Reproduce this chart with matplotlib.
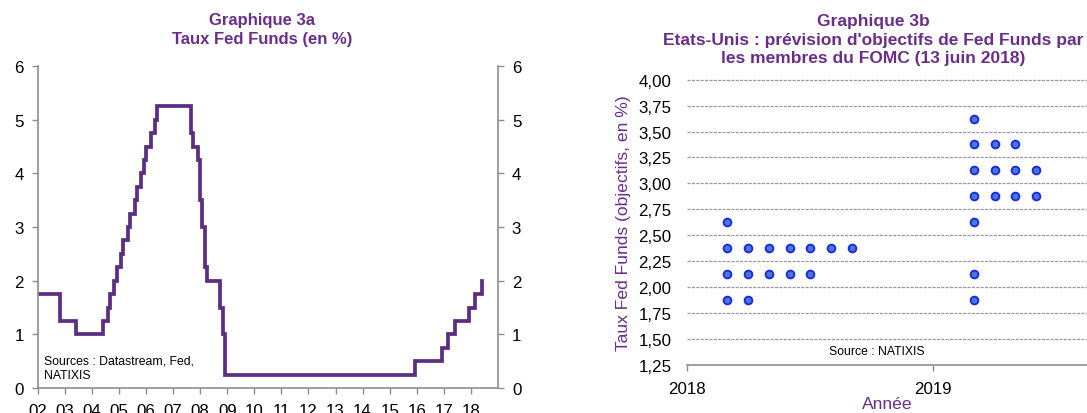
import numpy as np
import matplotlib
matplotlib.use("Agg")
import matplotlib.pyplot as plt

plt.rcParams['font.family'] = ['Liberation Sans', 'DejaVu Sans']

# Graphique 3a : Fed Funds target (upper bound), change dates and levels
change_dates = ["2002-01", "2002-11", "2003-06", "2004-06", "2004-08", "2004-09",
                "2004-11", "2004-12", "2005-02", "2005-03", "2005-05", "2005-06",
                "2005-08", "2005-09", "2005-11", "2005-12", "2006-01", "2006-03",
                "2006-05", "2006-06", "2007-09", "2007-10", "2007-12", "2008-01",
                "2008-02", "2008-03", "2008-04", "2008-10", "2008-11", "2008-12",
                "2015-12", "2016-12", "2017-03", "2017-06", "2017-12", "2018-03",
                "2018-06"]
fed_rates = [1.75, 1.25, 1.00, 1.25, 1.50, 1.75,
             2.00, 2.25, 2.50, 2.75, 3.00, 3.25,
             3.50, 3.75, 4.00, 4.25, 4.50, 4.75,
             5.00, 5.25, 4.75, 4.50, 4.25, 3.50,
             3.00, 2.25, 2.00, 1.50, 1.00, 0.25,
             0.50, 0.75, 1.00, 1.25, 1.50, 1.75,
             2.00]
year_ticks = list(range(2002, 2019))

# Graphique 3b : FOMC dot plot (june 2018), number of members per level
dot_levels = [1.875, 2.125, 2.375, 2.625, 2.875, 3.125, 3.375, 3.625]
dots_2018 = [2, 5, 7, 1, 0, 0, 0, 0]
dots_2019 = [1, 1, 0, 1, 4, 4, 3, 1]
dot_years = [2018, 2019]

purple = '#5C2D83'
title_purple = '#6A2E8A'
grey = '#8C8C8C'
fs_tick = 12.2

fig = plt.figure(figsize=(10.87, 4.14), dpi=100)
W, H = 1087, 414

def px_axes(x0, y0, x1, y1):
    return fig.add_axes([x0 / W, 1 - y1 / H, (x1 - x0) / W, (y1 - y0) / H])

# ---- left chart
ax = px_axes(37.7, 67, 498, 389)
x_dec = [int(d[:4]) + (int(d[5:]) - 1) / 12 for d in change_dates]
ax.step(x_dec, fed_rates, where='post', color=purple, lw=2.7, solid_joinstyle='miter')
ax.set_xlim(2002, 2019)
ax.set_ylim(0, 6)
ax.set_xticks(year_ticks)
ax.set_xticklabels(["%02d" % (y % 100) for y in year_ticks])
ax.set_yticks(range(7))
ax.tick_params(axis='y', which='both', labelsize=fs_tick, length=4, width=1, color=grey,
               pad=6, right=True, labelright=True)
ax.tick_params(axis='x', labelsize=fs_tick, length=4, width=1, color=grey, pad=7)
for s in ['left', 'right', 'bottom']:
    ax.spines[s].set_color(grey)
    ax.spines[s].set_linewidth(1.2)
ax.spines['top'].set_visible(False)
ax.text(0.013, 0.062, "Sources : Datastream, Fed,\nNATIXIS", transform=ax.transAxes,
        fontsize=8.8, ha='left', va='center', linespacing=1.25)

fig.text(262 / W, 1 - 30 / H, "Graphique 3a\nTaux Fed Funds (en %)", ha='center', va='center',
         fontsize=12, fontweight='bold', color=title_purple, linespacing=1.35)

# ---- right chart
bx = px_axes(686.7, 80.7, 1087, 365.7)
offset, spacing = 0.164, 0.0845
for yr, counts in zip(dot_years, [dots_2018, dots_2019]):
    for lvl, n in zip(dot_levels, counts):
        xs = [yr + offset + i * spacing for i in range(n)]
        bx.plot(xs, [lvl] * n, 'o', ms=5.6, mfc='#4C78C6', mec='#1424F5', mew=1.3,
                clip_on=False, zorder=3)
bx.set_xlim(2018, 2018 + (1087 - 686.7) / 246.6)
bx.set_ylim(1.25, 4.0)
yt = np.arange(1.25, 4.01, 0.25)
bx.set_yticks(yt)
bx.set_yticklabels([("%.2f" % v).replace('.', ',') for v in yt])
bx.set_xticks(dot_years)
bx.set_xticklabels([str(y) for y in dot_years])
bx.tick_params(axis='y', length=0, labelsize=fs_tick, pad=11)
bx.tick_params(axis='x', length=4, width=1, color=grey, labelsize=fs_tick, pad=8)
for v in yt[1:]:
    bx.axhline(v, color='#9A9A9A', lw=0.9, ls=(0, (2.5, 1)), zorder=1, clip_on=False)
for s in ['left', 'right', 'top']:
    bx.spines[s].set_visible(False)
bx.spines['bottom'].set_color(grey)
bx.spines['bottom'].set_linewidth(1.2)
bx.set_ylabel("Taux Fed Funds (objectifs, en %)", color=title_purple, fontsize=12.6, labelpad=5)
bx.set_xlabel("Année", color=title_purple, fontsize=12.6, labelpad=0)
fig.text(877 / W, 1 - 352 / H, "Source : NATIXIS", fontsize=8.8, ha='center', va='center')

fig.text(873 / W, 1 - 40 / H,
         "Graphique 3b\nEtats-Unis : prévision d'objectifs de Fed Funds par\nles membres du FOMC (13 juin 2018)",
         ha='center', va='center', fontsize=12.5, fontweight='bold', color=title_purple,
         linespacing=1.3)

fig.savefig("out.png", dpi=100)
